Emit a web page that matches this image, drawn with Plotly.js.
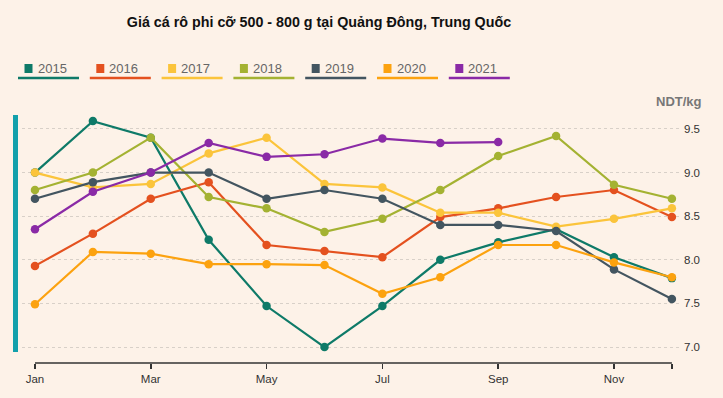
<!DOCTYPE html>
<html>
<head>
<meta charset="utf-8">
<script src="https://cdn.plot.ly/plotly-3.0.1.min.js"></script>
<style>
html,body{margin:0;padding:0;background:#ffffff;}
#chart{width:723px;height:398px;}
</style>
</head>
<body>
<div id="chart"></div>
<script>
// ---- data ----
const months = ['Jan','Feb','Mar','Apr','May','Jun','Jul','Aug','Sep','Oct','Nov','Dec'];
const years = ['2015','2016','2017','2018','2019','2020','2021'];
const v2015 = [9.00, 9.59, 9.40, 8.23, 7.47, 7.00, 7.47, 8.00, 8.20, 8.35, 8.03, 7.79];
const v2016 = [7.93, 8.30, 8.70, 8.89, 8.17, 8.10, 8.03, 8.49, 8.59, 8.72, 8.80, 8.49];
const v2017 = [9.00, 8.83, 8.87, 9.22, 9.40, 8.87, 8.83, 8.54, 8.54, 8.38, 8.47, 8.59];
const v2018 = [8.80, 9.00, 9.40, 8.72, 8.59, 8.32, 8.47, 8.80, 9.19, 9.42, 8.86, 8.70];
const v2019 = [8.70, 8.89, 9.00, 9.00, 8.70, 8.80, 8.70, 8.40, 8.40, 8.33, 7.89, 7.55];
const v2020 = [7.49, 8.09, 8.07, 7.95, 7.95, 7.94, 7.61, 7.80, 8.17, 8.17, 7.97, 7.80];
const v2021 = [8.35, 8.78, 9.00, 9.34, 9.18, 9.21, 9.39, 9.34, 9.35];
const tickMonths = ['Jan','Mar','May','Jul','Sep','Nov','Dec'];
const tickLabels = ['Jan','Mar','May','Jul','Sep','Nov',''];
const yTicks = [7.0, 7.5, 8.0, 8.5, 9.0, 9.5];
const titleText = 'Giá cá rô phi cỡ 500 - 800 g tại Quảng Đông, Trung Quốc';
const unitText = 'NDT/kg';

// ---- styles ----
const series = [v2015, v2016, v2017, v2018, v2019, v2020, v2021];
const colors = ['#0e7a68', '#e4511f', '#fbc43b', '#a4b232', '#435560', '#fca20f', '#8a2aa6'];
const W = 723, H = 398;
const M = {l: 22, r: 43, t: 115, b: 35};
const PW = W - M.l - M.r, PH = H - M.t - M.b;
const px = x => (x - M.l) / PW;
const py = y => (H - M.b - y) / PH;

const traces = series.map((vals, i) => ({
  type: 'scatter', mode: 'lines+markers',
  name: years[i],
  x: months.slice(0, vals.length), y: vals,
  line: {color: colors[i], width: 2.2},
  marker: {color: colors[i], size: 8.5},
  hoverinfo: 'x+y+name'
}));

const shapes = [];
const annotations = [];
// custom legend
years.forEach((yr, i) => {
  const x0 = 18 + 71.8 * i;
  shapes.push({type: 'rect', xref: 'paper', yref: 'paper',
    x0: px(x0 + 6.5), x1: px(x0 + 14.5), y0: py(73), y1: py(64),
    fillcolor: colors[i], line: {width: 0}});
  shapes.push({type: 'line', xref: 'paper', yref: 'paper',
    x0: px(x0), x1: px(x0 + 61), y0: py(78), y1: py(78),
    line: {color: colors[i], width: 2.5}});
  annotations.push({text: yr, xref: 'paper', yref: 'paper',
    x: px(x0 + 17.5), y: py(68.5), xanchor: 'left', yanchor: 'middle',
    showarrow: false, font: {family: 'Liberation Sans, Arial, sans-serif', size: 13, color: '#666'}});
});
// teal left bar
shapes.push({type: 'rect', xref: 'paper', yref: 'paper',
  x0: px(13), x1: px(18), y0: py(352), y1: py(115),
  fillcolor: '#12a0ab', line: {width: 0}});
// x axis line from first to last month
shapes.push({type: 'line', xref: 'x', yref: 'paper',
  x0: 0, x1: months.length - 1, y0: 0, y1: 0,
  line: {color: '#333', width: 1.5}});
// unit label
annotations.push({text: '<b>' + unitText + '</b>', xref: 'paper', yref: 'paper',
  x: px(704), y: py(102), xanchor: 'right', yanchor: 'middle', showarrow: false,
  font: {family: 'Liberation Sans, Arial, sans-serif', size: 13, color: '#777'}});

const layout = {
  width: W, height: H,
  margin: M,
  paper_bgcolor: '#fdf2e8',
  plot_bgcolor: '#fdf2e8',
  showlegend: false,
  title: {text: '<b>' + titleText + '</b>', x: 319 / W, xanchor: 'center', xref: 'container',
    y: 1 - 22 / H, yanchor: 'middle', yref: 'container',
    font: {family: 'Liberation Sans, Arial, sans-serif', size: 14.3, color: '#111'}},
  xaxis: {
    type: 'category',
    range: [-0.224, 11.14],
    tickmode: 'array', tickvals: tickMonths, ticktext: tickLabels,
    ticks: 'outside', ticklen: 5, tickwidth: 1.5, tickcolor: '#333',
    showgrid: false, showline: false, zeroline: false,
    tickfont: {family: 'Liberation Sans, Arial, sans-serif', size: 11.5, color: '#333'}
  },
  yaxis: {
    side: 'right',
    range: [6.817, 9.66],
    tickmode: 'array', tickvals: yTicks, ticktext: yTicks.map(v => v.toFixed(1)),
    showgrid: true, gridcolor: '#d8d0c8', griddash: 'dot', gridwidth: 1,
    zeroline: false, showline: false, ticks: '',
    ticklabelstandoff: 3,
    tickfont: {family: 'Liberation Sans, Arial, sans-serif', size: 11.5, color: '#333'}
  },
  shapes: shapes,
  annotations: annotations
};

Plotly.newPlot('chart', traces, layout, {displayModeBar: false, staticPlot: true});
</script>
</body>
</html>
